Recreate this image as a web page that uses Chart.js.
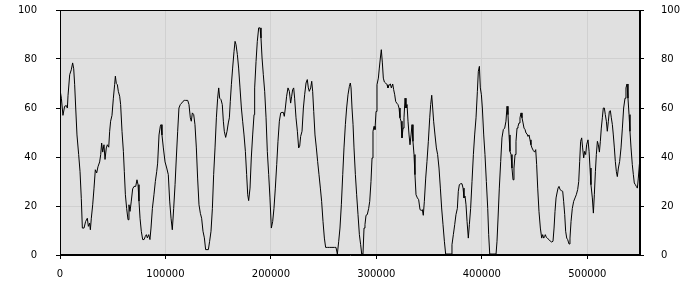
<!DOCTYPE html>
<html>
<head>
<meta charset="utf-8">
<script src="https://cdn.jsdelivr.net/npm/chart.js@4"></script>
<style>
  html, body { margin: 0; padding: 0; background: #fff; }
  canvas { display: block; }
</style>
</head>
<body>
<canvas id="chart" width="700" height="300"></canvas>
<script>
// positions along the x axis
const xs = [
  0, 1300, 2800, 4400, 6000, 7000, 7600, 9200, 10700, 12000, 13000, 13900, 14900, 16100, 17700, 19000,
  20200, 21200, 22800, 24300, 25900, 26900, 28100, 28800, 29700, 31000, 32200, 33500, 34800, 36000,
  37600, 38600, 39500, 40500, 41700, 42700, 43900, 44900, 46200, 47100, 48000, 49300, 50600, 51800,
  52500, 53400, 54400, 55300, 56600, 57500, 58800, 60100, 61000, 62000, 63200, 64500, 65400, 66400,
  67600, 68900, 70200, 71800, 73000, 74000, 74900, 75900, 77100, 78400, 79700, 80900, 81900, 82800,
  84100, 85300, 86300, 87600, 89100, 90400, 91700, 92600, 93900, 95100, 95800, 96700, 98000, 99600,
  101200, 102700, 104000, 105300, 106500, 107800, 109100, 110300, 111600, 112800, 114100, 115400,
  116600, 117900, 119200, 121100, 122300, 123600, 124500, 125500, 126800, 128000, 129300, 130500,
  131800, 133100, 134300, 135600, 136900, 138100, 139400, 140700, 141900, 143200, 144500, 145700,
  147000, 148300, 149500, 150500, 151400, 152700, 153900, 154900, 155800, 157100, 158400, 159600,
  160600, 161500, 162500, 163700, 165000, 166000, 166900, 168200, 169400, 170700, 172000, 173200,
  174500, 175800, 177000, 178000, 178900, 180200, 181400, 182700, 184000, 184600, 185900, 187100,
  188400, 189700, 190600, 191600, 192800, 194100, 195400, 196600, 197900, 199100, 200400, 201700,
  202900, 204200, 205500, 206700, 208000, 209300, 210500, 211800, 212700, 213700, 214900, 216200,
  217500, 218700, 219700, 220600, 221600, 222500, 223800, 225100, 226300, 227300, 228200, 229500,
  230800, 232000, 233300, 234500, 235500, 236400, 237700, 238700, 239600, 240600, 241800, 243100,
  244300, 245600, 246900, 248100, 249400, 250700, 251900, 253500, 255400, 257900, 260200, 261700,
  263000, 264300, 265500, 266800, 268100, 269300, 270600, 271800, 273100, 274400, 275300, 276000,
  276900, 277900, 278800, 280100, 281300, 282600, 283900, 285100, 286100, 287300, 288300, 289200,
  290200, 291400, 292700, 293700, 294900, 295900, 296800, 297800, 298700, 299700, 300600, 301900,
  302800, 303800, 304700, 305700, 306600, 307600, 308800, 310100, 311000, 312000, 313300, 314200,
  315500, 316400, 317400, 318300, 319300, 320500, 321500, 322400, 323400, 324300, 325300, 326200,
  327200, 328100, 329100, 330000, 331000, 331900, 332900, 333800, 334700, 335700, 336600, 337600,
  338900, 340100, 341400, 342700, 343600, 344500, 345500, 346800, 348000, 349300, 350600, 351500,
  352500, 353400, 354300, 355600, 356900, 358100, 359400, 360700, 361900, 363200, 364500, 365700,
  368000, 370800, 371700, 373000, 374300, 375500, 376800, 377700, 378700, 380000, 381200, 382200,
  383100, 384100, 385000, 386000, 387200, 388200, 389400, 390700, 392000, 393200, 394500, 395800,
  396700, 397700, 398600, 399600, 400500, 401800, 403000, 404300, 405600, 406500, 407500, 410500,
  413500, 414400, 415400, 416600, 417900, 419100, 420400, 421700, 422900, 423900, 424800, 425800,
  426700, 427700, 428600, 429600, 430500, 431500, 432400, 433400, 434300, 435300, 436200, 437200,
  438100, 439100, 440000, 441000, 441900, 442900, 443800, 444800, 445700, 446600, 447600, 448900,
  450100, 451100, 452000, 453000, 454200, 455500, 456800, 457700, 458700, 459600, 460200, 461200,
  462500, 463700, 465000, 466200, 467500, 468500, 469400, 470400, 471300, 472300, 473200, 474200,
  475400, 476700, 477600, 478600, 479500, 480500, 481400, 482700, 483600, 484600, 485800, 487100,
  488400, 489600, 490900, 491900, 492800, 493700, 494700, 495600, 496600, 497500, 498500, 499400,
  500700, 501700, 502600, 503500, 504800, 505800, 506700, 507700, 508600, 509600, 510500, 511500,
  512400, 513300, 514300, 515200, 516200, 517100, 518100, 519000, 520000, 520900, 521900, 522800,
  523800, 524700, 525700, 526600, 527600, 528500, 529500, 530700, 532000, 533300, 534500, 535800,
  536700, 537700, 538600, 539600, 540500, 541500, 542700, 543700, 544600, 545600, 546500, 547500,
  548400, 549400, 550000
];

// values at each position
const ys = [
  67.5, 64, 57, 60.7, 61, 60, 65, 73.6, 75.6, 78.4, 76, 69.5, 60, 49, 41, 34,
  23, 11, 11, 13.7, 15, 11.7, 13, 10.3, 15, 20.5, 27, 34.8, 33.5, 36,
  38, 41, 45.7, 42, 45, 39, 43.7, 45, 44, 50.5, 54.6, 57, 64, 69.5,
  73, 70, 69.5, 66.8, 64.8, 61.4, 50.5, 42.3, 34, 24.6, 19, 14.4, 20.5, 17.8,
  22, 27, 28, 28, 30.7, 28.7, 22, 15, 9.7, 6.3, 6.3, 7.6, 8.3, 7,
  8.3, 6.3, 11, 19, 24.6, 30, 34, 37.5, 49, 52.5, 53.2, 49, 43.7, 38,
  35.5, 32.8, 22, 15, 10.3, 19, 28.7, 39.6, 50.5, 60, 61.4, 62,
  62.7, 63.1, 63.1, 63.1, 61.4, 56, 54.6, 58, 57.3, 53.2, 43.7, 31.4,
  20.5, 17, 15, 9.7, 7, 2.2, 2.2, 2.2, 5.6, 9.7, 19, 32.8,
  43.7, 56, 64, 68.2, 64, 63.4, 61.4, 54.6, 50.5, 48, 50.5, 53.9,
  56, 62.7, 69.5, 76.3, 83, 87.2, 85.9, 81.8, 76.3, 68.2, 60, 54.6,
  49, 42.3, 32.8, 24.6, 22.2, 27.3, 39.6, 49, 57.3, 68.2, 79, 87.2,
  92.7, 92.7, 88.6, 80.4, 73.6, 66.8, 56, 42.3, 32.8, 23.3, 11, 13.7,
  19, 27.3, 36.9, 46.4, 54.6, 58, 58.2, 58.2, 56.6, 60, 64.8, 68.2,
  66.8, 62, 64.8, 67.5, 68.2, 64, 56, 50.5, 43.7, 44.4, 48.4, 50.5,
  60, 65.4, 70.2, 71.6, 68.2, 66.8, 68.2, 70.9, 66.8, 58.6, 49, 43.7,
  38.2, 32.8, 27.3, 21.9, 13.7, 6.9, 3.1, 3.1, 3.1, 3.1, 3.1, 3.1,
  0.4, 5.6, 11, 20.5, 32.8, 43.7, 53.2, 60, 65.4, 68.8, 70.2, 68.2,
  60, 53.2, 43.7, 32.8, 24.6, 16.5, 8.3, 4.2, 0.4, 0.4, 11, 12.4,
  16.2, 16.5, 19, 21.9, 30, 39.6, 50.5, 52.5, 51.2, 58.6, 69.5, 72.2,
  76.3, 80.4, 83.8, 78.4, 72.2, 70.6, 70.2, 69.5, 68.2, 69.3, 69.8, 68.2,
  69.8, 67.5, 65.4, 62.7, 62, 61.4, 60, 56, 54.6, 47.8, 51.8, 56,
  64, 60, 61.4, 54.6, 49, 45, 49, 53.2, 46.4, 41, 32.8, 24.6,
  23.3, 22.6, 18.5, 18.2, 18.5, 16.2, 21.9, 31.4, 38.2, 46.4, 56, 61.4,
  65.2, 60, 54.6, 49, 43.7, 41, 35.5, 27.3, 19.2, 12.4, 5.6, 0.4,
  0.4, 0.4, 4.2, 8.3, 12.4, 16.5, 19, 26, 28.7, 29.1, 29.1, 27.3,
  23.3, 24, 20.5, 13.7, 6.9, 12.4, 19, 30, 41, 49, 56, 66.8,
  75, 77, 68.2, 65.4, 60, 49, 41, 30, 19, 8.3, 0.4, 0.4,
  0.4, 5.6, 15.1, 27.3, 38.2, 47.8, 51.2, 51.8, 54.6, 60.7, 57.3, 49,
  42.3, 41, 35.5, 30.7, 35.5, 41, 46.4, 51.8, 52.5, 53.9, 56, 58,
  56, 53.9, 51.8, 51.2, 49.8, 49.4, 48.4, 49, 47, 45, 43.7, 42.6,
  42, 43, 36.9, 27.3, 17.8, 11, 6.9, 8.3, 6.9, 7.6, 8.3, 7.2,
  6.7, 6.3, 5.6, 5.3, 5.6, 11, 17.8, 23.3, 25.3, 27.3, 28, 26.7,
  26.3, 26, 21.9, 16.5, 9.7, 6.9, 6.3, 4.5, 6.9, 13.7, 19, 21.9,
  23.3, 24.6, 26.7, 30, 38.2, 46.4, 47.8, 43.7, 39.6, 42.3, 41, 45,
  47, 42.3, 35.5, 28.7, 23.3, 17.1, 24.6, 34, 41, 46.4, 45, 42,
  46.4, 51.8, 56, 60, 60, 57.3, 54.6, 50.5, 54.6, 58.6, 58.9, 56,
  53.2, 49, 43.7, 38.2, 34, 32, 35.5, 38.2, 43.7, 51.8, 60, 64,
  68.2, 69.8, 64, 57.3, 50.5, 43.7, 36.9, 32.8, 29.4, 28.7, 28, 27.3,
  31.4, 36.9, 38.2
];

const xTicks = [0, 100000, 200000, 300000, 400000, 500000];
const yTicks = [0, 20, 40, 60, 80, 100];

const points = xs.map((x, i) => ({ x: x, y: ys[i] }));

const labelFont = { family: 'DejaVu Sans', size: 10 };

// gray plot area and black frame
const plotFrame = {
  id: 'plotFrame',
  beforeDraw(chart) {
    const a = chart.chartArea;
    const ctx = chart.ctx;
    ctx.save();
    ctx.fillStyle = '#e0e0e0';
    ctx.fillRect(a.left, a.top, a.right - a.left, a.bottom - a.top);
    ctx.restore();
  },
  afterDraw(chart) {
    const a = chart.chartArea;
    const ctx = chart.ctx;
    ctx.save();
    ctx.strokeStyle = '#000';
    ctx.lineWidth = 1;
    ctx.strokeRect(Math.round(a.left) + 0.5, Math.round(a.top) + 0.5, Math.round(a.right - a.left) - 1, Math.round(a.bottom - a.top) - 1);
    ctx.restore();
  }
};

function setTicks(list) {
  return scale => { scale.ticks = list.map(v => ({ value: v })); };
}

// fixed axis sizes, and no extra padding from the label offsets
function fixSize(w, h) {
  return s => {
    if (w) s.width = w;
    if (h) s.height = h;
    s.paddingTop = 0;
    s.paddingBottom = 0;
    s.paddingLeft = 0;
    s.paddingRight = 0;
  };
}

new Chart(document.getElementById('chart'), {
  type: 'line',
  data: {
    datasets: [{
      data: points,
      borderColor: '#000',
      borderWidth: 1,
      pointRadius: 0,
      tension: 0,
      fill: false
    }]
  },
  options: {
    responsive: false,
    animation: false,
    layout: { padding: { top: 10, right: 0, left: 0, bottom: 0 } },
    plugins: { legend: { display: false }, tooltip: { enabled: false } },
    scales: {
      x: {
        type: 'linear',
        min: 0,
        max: 550000,
        afterBuildTicks: setTicks(xTicks),
        afterFit: fixSize(0, 45),
        grid: { color: '#d0d0d0', tickColor: '#000', tickLength: 4 },
        border: { color: '#000' },
        ticks: { color: '#000', font: labelFont, padding: 9, maxRotation: 0, callback: v => String(v) }
      },
      y: {
        position: 'left',
        min: 0,
        max: 100,
        afterBuildTicks: setTicks(yTicks),
        afterFit: fixSize(60, 0),
        grid: { color: '#d0d0d0', tickColor: '#000', tickLength: 4 },
        border: { color: '#000' },
        ticks: { color: '#000', font: labelFont, padding: 19 }
      },
      y2: {
        position: 'right',
        min: 0,
        max: 100,
        afterBuildTicks: setTicks(yTicks),
        afterFit: fixSize(60, 0),
        grid: { drawOnChartArea: false, tickColor: '#000', tickLength: 4 },
        border: { color: '#000' },
        ticks: { color: '#000', font: labelFont, padding: 17 }
      }
    }
  },
  plugins: [plotFrame]
});
</script>
</body>
</html>
